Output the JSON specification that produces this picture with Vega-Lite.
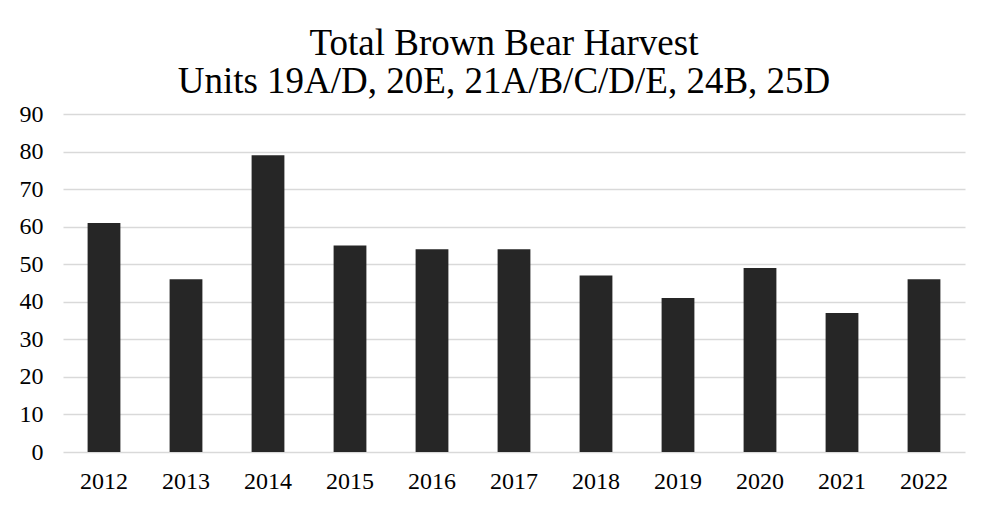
{
  "$schema": "https://vega.github.io/schema/vega-lite/v6.json",
  "autosize": "none",
  "width": 902,
  "height": 338,
  "padding": {"left": 63, "top": 114, "right": 26, "bottom": 58},
  "background": "white",
  "title": {
    "text": ["Total Brown Bear Harvest", "Units 19A/D, 20E, 21A/B/C/D/E, 24B, 25D"],
    "font": "Liberation Serif",
    "fontSize": 37,
    "fontWeight": "normal",
    "color": "#000000",
    "anchor": "middle",
    "lineHeight": 38,
    "offset": 1,
    "dx": -10
  },
  "data": {
    "values": [
      {"year": "2012", "harvest": 61},
      {"year": "2013", "harvest": 46},
      {"year": "2014", "harvest": 79},
      {"year": "2015", "harvest": 55},
      {"year": "2016", "harvest": 54},
      {"year": "2017", "harvest": 54},
      {"year": "2018", "harvest": 47},
      {"year": "2019", "harvest": 41},
      {"year": "2020", "harvest": 49},
      {"year": "2021", "harvest": 37},
      {"year": "2022", "harvest": 46}
    ]
  },
  "mark": {"type": "bar", "color": "#262626"},
  "encoding": {
    "x": {
      "field": "year",
      "type": "ordinal",
      "scale": {"paddingInner": 0.6, "paddingOuter": 0.3},
      "axis": {
        "title": null,
        "labelAngle": 0,
        "labelFont": "Liberation Serif",
        "labelFontSize": 24,
        "labelColor": "#000000",
        "labelPadding": 17,
        "ticks": false,
        "domain": false
      }
    },
    "y": {
      "field": "harvest",
      "type": "quantitative",
      "scale": {"domain": [0, 90]},
      "axis": {
        "title": null,
        "values": [0, 10, 20, 30, 40, 50, 60, 70, 80, 90],
        "labelFont": "Liberation Serif",
        "labelFontSize": 24,
        "labelColor": "#000000",
        "labelPadding": 20,
        "ticks": false,
        "domain": false,
        "gridColor": "#d9d9d9",
        "gridWidth": 1.5
      }
    }
  },
  "config": {"view": {"stroke": null}}
}
